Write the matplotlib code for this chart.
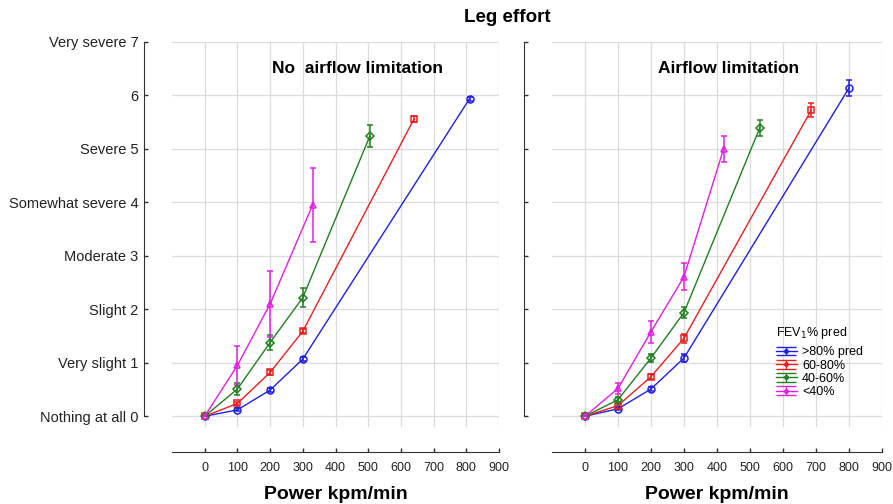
"""Leg effort vs power, by FEV1 % pred group."""

import matplotlib.pyplot as plt
from matplotlib.legend_handler import HandlerErrorbar

plt.rcParams["font.family"] = ["Liberation Sans", "DejaVu Sans"]

groups = [">80% pred", "60-80%", "40-60%", "<40%"]
colors = ["#2020e0", "#e82020", "#208020", "#e020e0"]
markers = ["o", "s", "D", "^"]

y_ticks = [0, 1, 2, 3, 4, 5, 6, 7]
y_labels = ["Nothing at all 0", "Very slight 1", "Slight 2", "Moderate 3",
            "Somewhat severe 4", "Severe 5", "6", "Very severe 7"]
x_ticks = [0, 100, 200, 300, 400, 500, 600, 700, 800, 900]

# No airflow limitation
no_x = [
    [0, 100, 200, 300, 810],
    [0, 100, 200, 300, 640],
    [0, 100, 200, 300, 505],
    [0, 100, 200, 330],
]
no_y = [
    [0, 0.12, 0.49, 1.07, 5.94],
    [0, 0.24, 0.82, 1.59, 5.56],
    [0, 0.51, 1.38, 2.22, 5.24],
    [0, 0.95, 2.10, 3.95],
]
no_err = [
    [0, 0.03, 0.03, 0.04, 0.04],
    [0, 0.03, 0.04, 0.04, 0.05],
    [0, 0.11, 0.14, 0.18, 0.20],
    [0, 0.36, 0.61, 0.69],
]

# Airflow limitation
af_x = [
    [0, 100, 200, 300, 800],
    [0, 100, 200, 300, 685],
    [0, 100, 200, 300, 530],
    [0, 100, 200, 300, 420],
]
af_y = [
    [0, 0.14, 0.51, 1.09, 6.14],
    [0, 0.20, 0.74, 1.46, 5.72],
    [0, 0.31, 1.09, 1.94, 5.40],
    [0, 0.52, 1.58, 2.61, 5.00],
]
af_err = [
    [0, 0.03, 0.04, 0.07, 0.15],
    [0, 0.03, 0.05, 0.08, 0.13],
    [0, 0.05, 0.08, 0.10, 0.15],
    [0, 0.10, 0.20, 0.25, 0.24],
]

fig = plt.figure(figsize=(8.93, 5.04), dpi=100)
ax_l = fig.add_axes([0.1926, 0.1528, 0.3662, 0.7639])
ax_r = fig.add_axes([0.6181, 0.1528, 0.3696, 0.7639])

panels = [
    (ax_l, no_x, no_y, no_err, "No  airflow limitation", 467),
    (ax_r, af_x, af_y, af_err, "Airflow limitation", 435),
]

for ax, xs, ys, errs, title, tx in panels:
    for x, y, e, c, m in zip(xs, ys, errs, colors, markers):
        ax.errorbar(x, y, yerr=e, color=c, marker=m, markersize=5 if m != "D" else 4,
                    markerfacecolor="none", markeredgewidth=1.1, linewidth=1.0,
                    elinewidth=1.1, capsize=2.5, capthick=1.0, zorder=3)
    ax.set_xlim(-100, 900)
    ax.set_ylim(-0.2, 7)
    ax.set_xticks(x_ticks)
    ax.set_yticks(y_ticks)
    ax.grid(True, color="#dcdcdc", linewidth=0.9)
    ax.set_axisbelow(True)
    for s in ["top", "right"]:
        ax.spines[s].set_visible(False)
    ax.spines["left"].set_position(("outward", 20))
    ax.spines["left"].set_bounds(0, 7)
    ax.spines["bottom"].set_position(("outward", 18))
    ax.spines["left"].set_color("#333333")
    ax.spines["bottom"].set_color("#333333")
    ax.tick_params(direction="in", length=3, width=1, colors="#333333",
                   labelcolor="#222222", labelsize=9)
    ax.tick_params(axis="x", pad=7)
    ax.tick_params(axis="y", pad=4)
    ax.set_xlabel("Power kpm/min", fontsize=14, fontweight="bold", labelpad=9)
    ax.text(tx, 6.5, title, fontsize=12.5, fontweight="bold",
            ha="center", va="center")

ax_l.set_yticklabels(y_labels, fontsize=10.5)
ax_r.set_yticklabels([])

fig.text(0.568, 0.965, "Leg effort", fontsize=13.5, fontweight="bold",
         ha="center", va="center")

# legend handles: errorbar markers drawn off-screen
handles = [ax_r.errorbar([-1000], [-10], yerr=[1], color=c, marker=".",
                         markersize=5, linewidth=1.0, elinewidth=1.0,
                         capsize=7, capthick=1.0)
           for c in colors]
leg = ax_r.legend(handles, groups, title="FEV$_1$% pred", loc="upper left",
                  bbox_to_anchor=(0.655, 0.285), frameon=False, fontsize=9,
                  title_fontsize=9, handlelength=1.7, handletextpad=0.4,
                  labelspacing=0.1, borderpad=0.1,
                  handler_map={type(handles[0]): HandlerErrorbar(yerr_size=0.35)})
leg._legend_box.align = "left"
leg._legend_box.sep = 4

fig.savefig("out.png", dpi=100)
